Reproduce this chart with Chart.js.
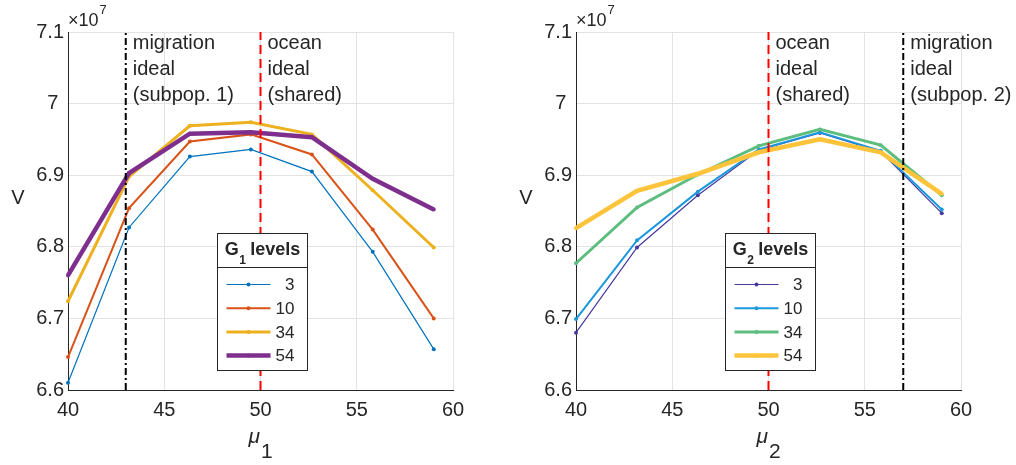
<!DOCTYPE html>
<html>
<head>
<meta charset="utf-8">
<script src="https://cdn.jsdelivr.net/npm/chart.js@4.4.1/dist/chart.umd.min.js"></script>
<style>
    body { margin: 0; background: #fff; }
    #wrap { display: flex; width: 1016px; height: 465px; }
    canvas { display: block; }
</style>
</head>
<body>
<div id="wrap">
    <canvas id="chart1" width="508" height="465"></canvas>
    <canvas id="chart2" width="508" height="465"></canvas>
</div>
<script>
// mu values on both axes (same sampling for both panels)
const muValues = [40, 43.17, 46.33, 49.5, 52.67, 55.83, 59]
const levelLabels = ['3', '10', '34', '54']

// V in units of 1e7, one array per G1 level
const g1Level3 = [6.610, 6.827, 6.926, 6.936, 6.905, 6.793, 6.657]
const g1Level10 = [6.646, 6.854, 6.947, 6.957, 6.929, 6.824, 6.700]
const g1Level34 = [6.724, 6.898, 6.969, 6.974, 6.957, 6.879, 6.799]
const g1Level54 = [6.760, 6.903, 6.958, 6.960, 6.953, 6.895, 6.852]

// V in units of 1e7, one array per G2 level
const g2Level3 = [6.680, 6.799, 6.872, 6.935, 6.959, 6.933, 6.847]
const g2Level10 = [6.699, 6.809, 6.877, 6.936, 6.960, 6.934, 6.852]
const g2Level34 = [6.777, 6.855, 6.901, 6.941, 6.964, 6.942, 6.872]
const g2Level54 = [6.826, 6.878, 6.902, 6.932, 6.950, 6.932, 6.874]

const xTicks = [40, 45, 50, 55, 60]
const yTicks = [6.6, 6.7, 6.8, 6.9, 7, 7.1]
const exponent = 7

// ideal positions marked by vertical lines
const oceanIdeal = 50
const migrationIdeal1 = 43
const migrationIdeal2 = 57

const INK = '#262626'
const FONT = '"Liberation Sans", Arial, sans-serif'
Chart.defaults.font.family = FONT

const colors1 = ['#0072BD', '#D95319', '#EDB120', '#7E2F8E']
const colors2 = ['#46399E', '#1A97DD', '#5CBD7F', '#FDC43B']
const widths = [1.2, 2, 3, 4.5]


function levelDatasets(series, colors) {
    return series.map((values, i) => ({
        label: levelLabels[i],
        data: values.map((v, k) => ({ x: muValues[k], y: v })),
        borderColor: colors[i],
        backgroundColor: colors[i],
        borderWidth: widths[i],
        pointRadius: 2,
        pointBorderWidth: 0,
        pointBackgroundColor: colors[i],
        tension: 0,
        clip: false,
        order: 10 - i
    }))
}

function refLine(xValue, color, dash) {
    return {
        label: '',
        isRef: true,
        data: [{ x: xValue, y: yTicks[0] }, { x: xValue, y: yTicks[yTicks.length - 1] }],
        borderColor: color,
        borderDash: dash,
        borderWidth: 2,
        pointRadius: 0,
        order: -1
    }
}


// text and legend drawn over each panel
const decor = {
    id: 'decor',
    afterDraw(chart, args, o) {
        const { ctx, chartArea: a, scales: { x } } = chart
        ctx.save()
        ctx.fillStyle = INK

        // exponent label
        ctx.textAlign = 'left'
        ctx.textBaseline = 'alphabetic'
        ctx.font = `18px ${FONT}`
        ctx.fillText('\u00d710', a.left, 26)
        const ew = ctx.measureText('\u00d710').width
        ctx.font = `13px ${FONT}`
        ctx.fillText(String(exponent), a.left + ew + 1, 14)

        // y title
        ctx.font = `20px ${FONT}`
        ctx.textAlign = 'center'
        ctx.textBaseline = 'middle'
        ctx.fillText('V', a.left - 50, 198)

        // x title: italic mu with subscript
        ctx.textBaseline = 'alphabetic'
        ctx.textAlign = 'left'
        ctx.font = `italic 21px ${FONT}`
        const mw = ctx.measureText('\u03bc').width
        ctx.font = `21px ${FONT}`
        const sw = ctx.measureText(o.sub).width
        const cx = (a.left + a.right) / 2 - (mw + sw + 1) / 2
        ctx.font = `italic 21px ${FONT}`
        ctx.fillText('\u03bc', cx, 443)
        ctx.font = `21px ${FONT}`
        ctx.fillText(o.sub, cx + mw + 1, 458)

        // notes next to the vertical lines
        ctx.font = `20px ${FONT}`
        ctx.textBaseline = 'middle'
        o.notes.forEach(n => {
            const px = x.getPixelForValue(n.at) + 7
            n.lines.forEach((t, i) => ctx.fillText(t, px, a.top + 11 + 26 * i))
        })

        // legend
        const bx = Math.round(a.left + 149) + 0.5
        const by = 233.5
        const bw = 90, bh = 137
        ctx.fillStyle = '#fff'
        ctx.fillRect(bx, by, bw, bh)
        ctx.strokeStyle = INK
        ctx.lineWidth = 1
        ctx.setLineDash([])
        ctx.strokeRect(bx, by, bw, bh)
        ctx.beginPath()
        ctx.moveTo(bx, by + 34)
        ctx.lineTo(bx + bw, by + 34)
        ctx.stroke()

        ctx.fillStyle = INK
        ctx.textBaseline = 'alphabetic'
        ctx.textAlign = 'left'
        ctx.font = `bold 18px ${FONT}`
        const gw = ctx.measureText('G').width
        const lw = ctx.measureText(' levels').width
        ctx.font = `bold 12px ${FONT}`
        const subw = ctx.measureText(o.sub).width
        let tx = bx + bw / 2 - (gw + subw + lw) / 2
        ctx.font = `bold 18px ${FONT}`
        ctx.fillText('G', tx, by + 21)
        ctx.font = `bold 12px ${FONT}`
        ctx.fillText(o.sub, tx + gw + 0.5, by + 30)
        ctx.font = `bold 18px ${FONT}`
        ctx.fillText(' levels', tx + gw + subw, by + 21)

        const items = chart.data.datasets.filter(ds => !ds.isRef)
        ctx.font = `17px ${FONT}`
        ctx.textAlign = 'right'
        ctx.textBaseline = 'middle'
        items.forEach((ds, i) => {
            const ry = by + 51 + 23.7 * i
            ctx.strokeStyle = ds.borderColor
            ctx.lineWidth = ds.borderWidth
            ctx.beginPath()
            ctx.moveTo(bx + 9, ry)
            ctx.lineTo(bx + 53, ry)
            ctx.stroke()
            ctx.fillStyle = ds.borderColor
            ctx.beginPath()
            ctx.arc(bx + 31, ry, 2, 0, Math.PI * 2)
            ctx.fill()
            ctx.fillStyle = INK
            ctx.fillText(ds.label, bx + 77, ry + 1)
        })

        ctx.restore()
    }
}


function panelOptions(sub, notes) {
    return {
        responsive: false,
        animation: false,
        devicePixelRatio: 1,
        layout: { padding: { left: 0, right: 55, top: 32, bottom: 0 } },
        plugins: {
            legend: { display: false },
            tooltip: { enabled: false },
            decor: { sub, notes }
        },
        scales: {
            x: {
                type: 'linear',
                min: xTicks[0],
                max: xTicks[xTicks.length - 1],
                afterBuildTicks: scale => { scale.ticks = xTicks.map(v => ({ value: v })) },
                afterFit: scale => { scale.height = 75 },
                ticks: { color: INK, font: { size: 20 }, padding: 8, maxRotation: 0 },
                grid: { color: '#e3e3e3', drawTicks: false },
                border: { color: INK, width: 1 }
            },
            y: {
                min: yTicks[0],
                max: yTicks[yTicks.length - 1],
                afterBuildTicks: scale => { scale.ticks = yTicks.map(v => ({ value: v })) },
                afterFit: scale => { scale.width = 68 },
                ticks: {
                    color: INK,
                    font: { size: 20 },
                    padding: 4,
                    // whole numbers keep room for the decimal point
                    callback: v => {
                        const n = Number(v.toFixed(1))
                        return Number.isInteger(n) ? n + ' ' : String(n)
                    }
                },
                grid: { color: '#e3e3e3', drawTicks: false },
                border: { color: INK, width: 1 }
            }
        }
    }
}


new Chart('chart1', {
    type: 'line',
    data: {
        datasets: [
            ...levelDatasets([g1Level3, g1Level10, g1Level34, g1Level54], colors1),
            refLine(migrationIdeal1, '#000', [7, 3, 2, 3]),
            refLine(oceanIdeal, '#ff0000', [9, 5])
        ]
    },
    options: panelOptions('1', [
        { at: migrationIdeal1, lines: ['migration', 'ideal', '(subpop. 1)'] },
        { at: oceanIdeal, lines: ['ocean', 'ideal', '(shared)'] }
    ]),
    plugins: [decor]
})

new Chart('chart2', {
    type: 'line',
    data: {
        datasets: [
            ...levelDatasets([g2Level3, g2Level10, g2Level34, g2Level54], colors2),
            refLine(oceanIdeal, '#ff0000', [9, 5]),
            refLine(migrationIdeal2, '#000', [7, 3, 2, 3])
        ]
    },
    options: panelOptions('2', [
        { at: oceanIdeal, lines: ['ocean', 'ideal', '(shared)'] },
        { at: migrationIdeal2, lines: ['migration', 'ideal', '(subpop. 2)'] }
    ]),
    plugins: [decor]
})
</script>
</body>
</html>
